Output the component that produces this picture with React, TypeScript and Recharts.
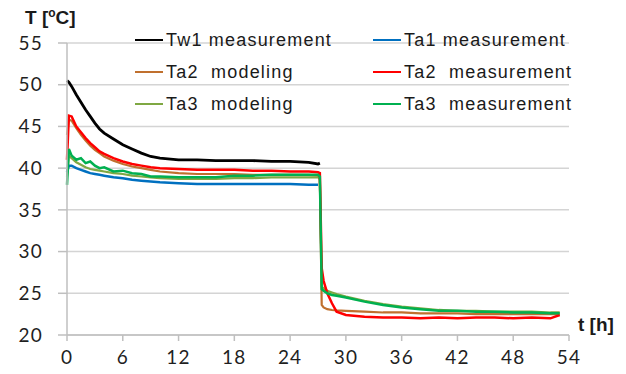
import React from 'react';
import { LineChart, Line, XAxis, YAxis, CartesianGrid, Legend } from 'recharts';

// time in hours
const hours = [0, 0.2, 0.5, 1, 1.5, 2, 2.5, 3, 3.5, 4, 5, 6, 7, 8, 9, 10, 12, 14, 16, 18, 20, 22, 24, 26, 27, 27.2, 27.4, 27.6, 28, 28.5, 29, 30, 32, 34, 36, 38, 40, 42, 44, 46, 48, 50, 52, 53];

const tw1Meas = [50.5, 50.3, 49.8, 48.8, 47.9, 47.0, 46.2, 45.4, 44.7, 44.2, 43.5, 42.8, 42.3, 41.8, 41.4, 41.2, 41.0, 41.0, 40.9, 40.9, 40.9, 40.8, 40.8, 40.7, 40.5, 40.6];
const ta1Meas = [39.5, 40.3, 40.3, 40.0, 39.8, 39.6, 39.4, 39.3, 39.2, 39.1, 38.9, 38.8, 38.6, 38.5, 38.4, 38.3, 38.2, 38.1, 38.1, 38.1, 38.1, 38.1, 38.1, 38.0, 38.0];
const ta2Model = [44.0, 45.8, 45.7, 44.8, 44.0, 43.3, 42.7, 42.2, 41.8, 41.4, 40.9, 40.5, 40.2, 40.0, 39.8, 39.6, 39.4, 39.3, 39.3, 39.3, 39.2, 39.2, 39.2, 39.2, 39.1, 38.6, 23.6, 23.3, 23.1, 23.0, 22.95, 22.9, 22.8, 22.7, 22.7, 22.6, 22.6, 22.6, 22.5, 22.5, 22.5, 22.5, 22.5, 22.5];
const ta2Meas = [41.0, 46.3, 46.2, 45.0, 44.3, 43.6, 43.0, 42.5, 42.0, 41.7, 41.2, 40.8, 40.5, 40.3, 40.1, 40.0, 39.9, 39.8, 39.8, 39.8, 39.7, 39.7, 39.6, 39.6, 39.5, 39.4, 28.0, 26.5, 25.0, 23.8, 22.8, 22.4, 22.2, 22.1, 22.1, 22.0, 22.1, 22.0, 22.1, 22.1, 22.0, 22.1, 22.0, 22.4];
const ta3Model = [39.0, 41.5, 41.2, 40.7, 40.4, 40.1, 39.9, 39.8, 39.7, 39.6, 39.4, 39.3, 39.1, 39.0, 38.9, 38.8, 38.7, 38.7, 38.7, 38.8, 38.8, 38.9, 38.9, 38.9, 38.9, 38.8, 25.8, 25.6, 25.3, 25.1, 24.9, 24.6, 24.1, 23.7, 23.4, 23.2, 23.0, 22.9, 22.9, 22.8, 22.8, 22.8, 22.7, 22.7];
const ta3Meas = [38.0, 42.3, 41.5, 41.0, 41.2, 40.6, 40.8, 40.3, 40.0, 40.1, 39.6, 39.7, 39.4, 39.3, 39.0, 39.0, 38.9, 38.9, 38.9, 39.1, 39.1, 39.2, 39.2, 39.2, 39.2, 39.0, 25.5, 25.3, 25.0, 24.8, 24.7, 24.5, 24.0, 23.6, 23.3, 23.1, 22.9, 22.9, 22.8, 22.8, 22.7, 22.7, 22.6, 22.6];

const xTicks = [0, 6, 12, 18, 24, 30, 36, 42, 48, 54];
const yTicks = [20, 25, 30, 35, 40, 45, 50, 55];

const data = hours.map((t, i) => ({
  t,
  tw1: tw1Meas[i] ?? null,
  ta1: ta1Meas[i] ?? null,
  ta2m: ta2Model[i] ?? null,
  ta2: ta2Meas[i] ?? null,
  ta3m: ta3Model[i] ?? null,
  ta3: ta3Meas[i] ?? null,
}));

const legendRows = [
  [{ name: 'Tw1 measurement', color: '#000000' }, { name: 'Ta1 measurement', color: '#0070C0' }],
  [{ name: 'Ta2  modeling', color: '#C0702E' }, { name: 'Ta2  measurement', color: '#FF0000' }],
  [{ name: 'Ta3  modeling', color: '#7FA843' }, { name: 'Ta3  measurement', color: '#00B050' }],
];

const tickFont = { fontFamily: 'Lato', fontSize: 19, fill: '#1f1f1f', letterSpacing: 1.2 };

const renderLegend = () => (
  <div style={{ fontFamily: '"Liberation Sans", Arial', fontSize: 18, letterSpacing: 1.2, color: '#1a1a1a' }}>
    {legendRows.map((row, r) => (
      <div key={r} style={{ display: 'flex', height: 32, alignItems: 'center' }}>
        {row.map((item) => (
          <div key={item.name} style={{ display: 'flex', alignItems: 'center', width: 238 }}>
            <span style={{ display: 'inline-block', width: 28, height: 2, background: item.color, marginRight: 3 }} />
            <span style={{ whiteSpace: 'pre' }}>{item.name}</span>
          </div>
        ))}
      </div>
    ))}
  </div>
);

const App = () => {
  return (
    <div style={{ position: 'relative', width: 626, height: 374, margin: -8, background: '#fff' }}>
      <LineChart width={626} height={374} data={data} margin={{ top: 43, right: 57, bottom: 0, left: 17 }}>
        <CartesianGrid vertical={false} stroke="#d4d4d4" strokeWidth={1.5} />
        <XAxis
          dataKey="t"
          type="number"
          domain={[0, 54]}
          ticks={xTicks}
          height={39}
          stroke="#bfbfbf"
          strokeWidth={1.5}
          tickSize={6}
          tickMargin={10}
          tick={tickFont}
          interval={0}
        />
        <YAxis
          type="number"
          domain={[20, 55]}
          ticks={yTicks}
          width={50}
          stroke="#bfbfbf"
          strokeWidth={1.5}
          tickSize={9}
          tickMargin={15}
          tick={tickFont}
          interval={0}
        />
        <Legend
          layout="vertical"
          verticalAlign="middle"
          align="center"
          content={renderLegend}
          wrapperStyle={{ position: 'absolute', top: 24, left: 135, width: 480 }}
        />
        <Line dataKey="ta2m" stroke="#C0702E" strokeWidth={2.2} dot={false} isAnimationActive={false} />
        <Line dataKey="ta3m" stroke="#7FA843" strokeWidth={2.2} dot={false} isAnimationActive={false} />
        <Line dataKey="ta1" stroke="#0070C0" strokeWidth={2.5} dot={false} isAnimationActive={false} />
        <Line dataKey="ta2" stroke="#FF0000" strokeWidth={2.5} dot={false} isAnimationActive={false} />
        <Line dataKey="ta3" stroke="#00B050" strokeWidth={2.5} dot={false} isAnimationActive={false} />
        <Line dataKey="tw1" stroke="#000000" strokeWidth={2.8} dot={false} isAnimationActive={false} />
      </LineChart>
      <div style={{ position: 'absolute', left: 25, top: 6, fontFamily: '"Liberation Sans", Arial', fontWeight: 'bold', fontSize: 19, color: '#1a1a1a' }}>
        T [<sup style={{ fontSize: 12 }}>o</sup>C]
      </div>
      <div style={{ position: 'absolute', left: 578, top: 314, fontFamily: '"Liberation Sans", Arial', fontWeight: 'bold', fontSize: 19, color: '#1a1a1a' }}>
        t [h]
      </div>
    </div>
  );
};

export default App;
